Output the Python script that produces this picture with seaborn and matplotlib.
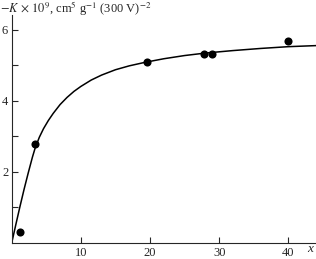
import numpy as np
import matplotlib
matplotlib.use("Agg")
import matplotlib.pyplot as plt
import seaborn as sns

# measured points
x_pts = [1.2, 3.4, 19.6, 27.8, 29.0, 40.0]
k_pts = [0.32, 2.78, 5.10, 5.33, 5.32, 5.70]

# fitted curve
x_fit = [0.0, 0.6, 1.2, 1.8, 2.4, 3.0, 3.4, 4.0, 4.6, 5.3, 6.0, 7.0, 8.0, 9.0, 10.0,
         11.5, 13.0, 15.0, 17.0, 19.3, 22.0, 25.0, 28.0, 32.0, 36.0, 40.0, 44.0]
k_fit = [0.0, 0.52, 1.03, 1.52, 1.98, 2.42, 2.68, 2.98, 3.22, 3.45, 3.65, 3.90, 4.10, 4.27, 4.41,
         4.59, 4.73, 4.88, 4.99, 5.09, 5.19, 5.28, 5.35, 5.42, 5.48, 5.53, 5.56]

sns.set_style("ticks")
plt.rcParams["font.family"] = ["Liberation Serif", "DejaVu Serif"]
plt.rcParams["mathtext.fontset"] = "stix"

fig = plt.figure(figsize=(3.16, 2.59), dpi=100)
ax = fig.add_axes([0.037, 0.0618, 0.963, 0.88])

sns.lineplot(x=x_fit, y=k_fit, ax=ax, color="black", linewidth=1.1, sort=False)
sns.scatterplot(x=x_pts, y=k_pts, ax=ax, color="black", s=34, edgecolor="black", linewidth=0, zorder=3)

ax.set_xlim(0, 44)
ax.set_ylim(0, 6.42)
ax.set_xticks([10, 20, 30, 40])
ax.set_yticks([2, 4, 6])
ax.set_yticks([1, 3, 5], minor=True)
ax.tick_params(axis="x", direction="in", length=4, width=0.8, labelsize=9, pad=3)
ax.tick_params(axis="y", which="both", direction="in", length=4, width=0.8, labelsize=9, pad=2.5)
for s in ["top", "right"]:
    ax.spines[s].set_visible(False)
for s in ["left", "bottom"]:
    ax.spines[s].set_linewidth(0.8)
ax.set_xlabel("")
ax.set_ylabel("")

fig.text(0.0, 0.968, r"$-K\,\times\,10^9$, cm$^5$ g$^{-1}$ (300 V)$^{-2}$", fontsize=9, ha="left", va="center")
fig.text(0.982, 0.04, "x", fontsize=9.5, style="italic", ha="center", va="center")

fig.savefig("out.png", dpi=100)
